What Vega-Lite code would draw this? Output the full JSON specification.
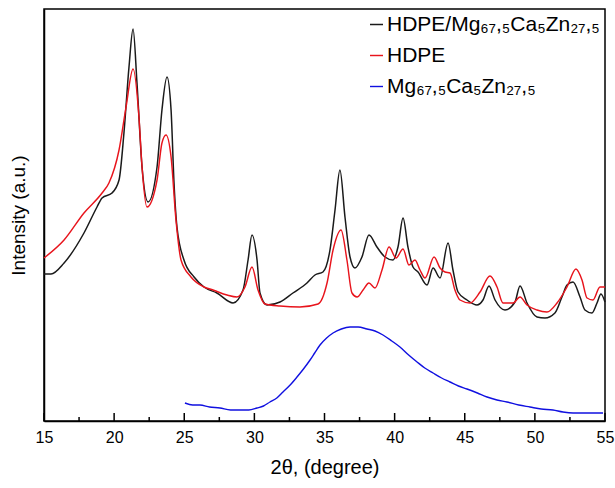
{
  "$schema": "https://vega.github.io/schema/vega-lite/v6.json",
  "width": 561,
  "height": 412,
  "autosize": "none",
  "padding": {"left": 44, "top": 9, "right": 10, "bottom": 67},
  "config": {
    "view": {"stroke": "black", "strokeWidth": 1.5},
    "font": "Liberation Sans",
    "axis": {"grid": false, "domainColor": "black", "domainWidth": 1.5, "labelColor": "black", "titleColor": "black", "tickColor": "black", "titleFontWeight": "normal"}
  },
  "datasets": {
    "major": [{"x": 15}, {"x": 20}, {"x": 25}, {"x": 30}, {"x": 35}, {"x": 40}, {"x": 45}, {"x": 50}, {"x": 55}],
    "minor": [{"x": 17.5}, {"x": 22.5}, {"x": 27.5}, {"x": 32.5}, {"x": 37.5}, {"x": 42.5}, {"x": 47.5}, {"x": 52.5}],
    "xrd": [
      {"s": "HDPE/Mg₆₇,₅Ca₅Zn₂₇,₅", "x": 15.00, "y": 147},
      {"s": "HDPE/Mg₆₇,₅Ca₅Zn₂₇,₅", "x": 15.50, "y": 147},
      {"s": "HDPE/Mg₆₇,₅Ca₅Zn₂₇,₅", "x": 16.43, "y": 158},
      {"s": "HDPE/Mg₆₇,₅Ca₅Zn₂₇,₅", "x": 17.85, "y": 188},
      {"s": "HDPE/Mg₆₇,₅Ca₅Zn₂₇,₅", "x": 18.78, "y": 214},
      {"s": "HDPE/Mg₆₇,₅Ca₅Zn₂₇,₅", "x": 19.14, "y": 223},
      {"s": "HDPE/Mg₆₇,₅Ca₅Zn₂₇,₅", "x": 19.85, "y": 228},
      {"s": "HDPE/Mg₆₇,₅Ca₅Zn₂₇,₅", "x": 20.35, "y": 241},
      {"s": "HDPE/Mg₆₇,₅Ca₅Zn₂₇,₅", "x": 20.70, "y": 288},
      {"s": "HDPE/Mg₆₇,₅Ca₅Zn₂₇,₅", "x": 21.06, "y": 354},
      {"s": "HDPE/Mg₆₇,₅Ca₅Zn₂₇,₅", "x": 21.35, "y": 392},
      {"s": "HDPE/Mg₆₇,₅Ca₅Zn₂₇,₅", "x": 21.63, "y": 338},
      {"s": "HDPE/Mg₆₇,₅Ca₅Zn₂₇,₅", "x": 21.99, "y": 254},
      {"s": "HDPE/Mg₆₇,₅Ca₅Zn₂₇,₅", "x": 22.42, "y": 219},
      {"s": "HDPE/Mg₆₇,₅Ca₅Zn₂₇,₅", "x": 23.06, "y": 254},
      {"s": "HDPE/Mg₆₇,₅Ca₅Zn₂₇,₅", "x": 23.41, "y": 311},
      {"s": "HDPE/Mg₆₇,₅Ca₅Zn₂₇,₅", "x": 23.77, "y": 344},
      {"s": "HDPE/Mg₆₇,₅Ca₅Zn₂₇,₅", "x": 24.06, "y": 311},
      {"s": "HDPE/Mg₆₇,₅Ca₅Zn₂₇,₅", "x": 24.27, "y": 238},
      {"s": "HDPE/Mg₆₇,₅Ca₅Zn₂₇,₅", "x": 24.48, "y": 194},
      {"s": "HDPE/Mg₆₇,₅Ca₅Zn₂₇,₅", "x": 24.98, "y": 161},
      {"s": "HDPE/Mg₆₇,₅Ca₅Zn₂₇,₅", "x": 25.70, "y": 144},
      {"s": "HDPE/Mg₆₇,₅Ca₅Zn₂₇,₅", "x": 26.41, "y": 134},
      {"s": "HDPE/Mg₆₇,₅Ca₅Zn₂₇,₅", "x": 27.33, "y": 128},
      {"s": "HDPE/Mg₆₇,₅Ca₅Zn₂₇,₅", "x": 28.48, "y": 118},
      {"s": "HDPE/Mg₆₇,₅Ca₅Zn₂₇,₅", "x": 29.19, "y": 131},
      {"s": "HDPE/Mg₆₇,₅Ca₅Zn₂₇,₅", "x": 29.55, "y": 161},
      {"s": "HDPE/Mg₆₇,₅Ca₅Zn₂₇,₅", "x": 29.83, "y": 186},
      {"s": "HDPE/Mg₆₇,₅Ca₅Zn₂₇,₅", "x": 30.19, "y": 161},
      {"s": "HDPE/Mg₆₇,₅Ca₅Zn₂₇,₅", "x": 30.40, "y": 128},
      {"s": "HDPE/Mg₆₇,₅Ca₅Zn₂₇,₅", "x": 30.90, "y": 116},
      {"s": "HDPE/Mg₆₇,₅Ca₅Zn₂₇,₅", "x": 31.83, "y": 119},
      {"s": "HDPE/Mg₆₇,₅Ca₅Zn₂₇,₅", "x": 32.75, "y": 128},
      {"s": "HDPE/Mg₆₇,₅Ca₅Zn₂₇,₅", "x": 33.75, "y": 138},
      {"s": "HDPE/Mg₆₇,₅Ca₅Zn₂₇,₅", "x": 34.32, "y": 146},
      {"s": "HDPE/Mg₆₇,₅Ca₅Zn₂₇,₅", "x": 34.89, "y": 149},
      {"s": "HDPE/Mg₆₇,₅Ca₅Zn₂₇,₅", "x": 35.39, "y": 171},
      {"s": "HDPE/Mg₆₇,₅Ca₅Zn₂₇,₅", "x": 35.75, "y": 211},
      {"s": "HDPE/Mg₆₇,₅Ca₅Zn₂₇,₅", "x": 36.10, "y": 251},
      {"s": "HDPE/Mg₆₇,₅Ca₅Zn₂₇,₅", "x": 36.46, "y": 204},
      {"s": "HDPE/Mg₆₇,₅Ca₅Zn₂₇,₅", "x": 36.82, "y": 164},
      {"s": "HDPE/Mg₆₇,₅Ca₅Zn₂₇,₅", "x": 37.17, "y": 153},
      {"s": "HDPE/Mg₆₇,₅Ca₅Zn₂₇,₅", "x": 37.67, "y": 164},
      {"s": "HDPE/Mg₆₇,₅Ca₅Zn₂₇,₅", "x": 38.17, "y": 186},
      {"s": "HDPE/Mg₆₇,₅Ca₅Zn₂₇,₅", "x": 38.74, "y": 174},
      {"s": "HDPE/Mg₆₇,₅Ca₅Zn₂₇,₅", "x": 39.31, "y": 164},
      {"s": "HDPE/Mg₆₇,₅Ca₅Zn₂₇,₅", "x": 39.88, "y": 161},
      {"s": "HDPE/Mg₆₇,₅Ca₅Zn₂₇,₅", "x": 40.24, "y": 174},
      {"s": "HDPE/Mg₆₇,₅Ca₅Zn₂₇,₅", "x": 40.60, "y": 203},
      {"s": "HDPE/Mg₆₇,₅Ca₅Zn₂₇,₅", "x": 40.95, "y": 174},
      {"s": "HDPE/Mg₆₇,₅Ca₅Zn₂₇,₅", "x": 41.31, "y": 154},
      {"s": "HDPE/Mg₆₇,₅Ca₅Zn₂₇,₅", "x": 41.67, "y": 149},
      {"s": "HDPE/Mg₆₇,₅Ca₅Zn₂₇,₅", "x": 42.31, "y": 136},
      {"s": "HDPE/Mg₆₇,₅Ca₅Zn₂₇,₅", "x": 42.74, "y": 153},
      {"s": "HDPE/Mg₆₇,₅Ca₅Zn₂₇,₅", "x": 43.24, "y": 143},
      {"s": "HDPE/Mg₆₇,₅Ca₅Zn₂₇,₅", "x": 43.81, "y": 178},
      {"s": "HDPE/Mg₆₇,₅Ca₅Zn₂₇,₅", "x": 44.16, "y": 151},
      {"s": "HDPE/Mg₆₇,₅Ca₅Zn₂₇,₅", "x": 44.52, "y": 129},
      {"s": "HDPE/Mg₆₇,₅Ca₅Zn₂₇,₅", "x": 45.16, "y": 121},
      {"s": "HDPE/Mg₆₇,₅Ca₅Zn₂₇,₅", "x": 45.87, "y": 116},
      {"s": "HDPE/Mg₆₇,₅Ca₅Zn₂₇,₅", "x": 46.30, "y": 121},
      {"s": "HDPE/Mg₆₇,₅Ca₅Zn₂₇,₅", "x": 46.73, "y": 135},
      {"s": "HDPE/Mg₆₇,₅Ca₅Zn₂₇,₅", "x": 47.16, "y": 121},
      {"s": "HDPE/Mg₆₇,₅Ca₅Zn₂₇,₅", "x": 47.87, "y": 111},
      {"s": "HDPE/Mg₆₇,₅Ca₅Zn₂₇,₅", "x": 48.58, "y": 119},
      {"s": "HDPE/Mg₆₇,₅Ca₅Zn₂₇,₅", "x": 48.94, "y": 135},
      {"s": "HDPE/Mg₆₇,₅Ca₅Zn₂₇,₅", "x": 49.44, "y": 118},
      {"s": "HDPE/Mg₆₇,₅Ca₅Zn₂₇,₅", "x": 50.15, "y": 104},
      {"s": "HDPE/Mg₆₇,₅Ca₅Zn₂₇,₅", "x": 50.72, "y": 103},
      {"s": "HDPE/Mg₆₇,₅Ca₅Zn₂₇,₅", "x": 51.43, "y": 108},
      {"s": "HDPE/Mg₆₇,₅Ca₅Zn₂₇,₅", "x": 51.93, "y": 124},
      {"s": "HDPE/Mg₆₇,₅Ca₅Zn₂₇,₅", "x": 52.29, "y": 136},
      {"s": "HDPE/Mg₆₇,₅Ca₅Zn₂₇,₅", "x": 52.72, "y": 139},
      {"s": "HDPE/Mg₆₇,₅Ca₅Zn₂₇,₅", "x": 53.22, "y": 124},
      {"s": "HDPE/Mg₆₇,₅Ca₅Zn₂₇,₅", "x": 53.57, "y": 111},
      {"s": "HDPE/Mg₆₇,₅Ca₅Zn₂₇,₅", "x": 54.07, "y": 108},
      {"s": "HDPE/Mg₆₇,₅Ca₅Zn₂₇,₅", "x": 54.43, "y": 118},
      {"s": "HDPE/Mg₆₇,₅Ca₅Zn₂₇,₅", "x": 54.71, "y": 127},
      {"s": "HDPE/Mg₆₇,₅Ca₅Zn₂₇,₅", "x": 55.00, "y": 119},
      {"s": "HDPE", "x": 15.00, "y": 163},
      {"s": "HDPE", "x": 16.43, "y": 181},
      {"s": "HDPE", "x": 17.85, "y": 208},
      {"s": "HDPE", "x": 19.14, "y": 228},
      {"s": "HDPE", "x": 19.63, "y": 238},
      {"s": "HDPE", "x": 20.35, "y": 271},
      {"s": "HDPE", "x": 20.85, "y": 314},
      {"s": "HDPE", "x": 21.35, "y": 352},
      {"s": "HDPE", "x": 21.77, "y": 304},
      {"s": "HDPE", "x": 21.99, "y": 254},
      {"s": "HDPE", "x": 22.34, "y": 214},
      {"s": "HDPE", "x": 23.06, "y": 241},
      {"s": "HDPE", "x": 23.41, "y": 278},
      {"s": "HDPE", "x": 23.70, "y": 286},
      {"s": "HDPE", "x": 24.06, "y": 264},
      {"s": "HDPE", "x": 24.41, "y": 201},
      {"s": "HDPE", "x": 24.77, "y": 161},
      {"s": "HDPE", "x": 25.48, "y": 144},
      {"s": "HDPE", "x": 26.41, "y": 134},
      {"s": "HDPE", "x": 27.05, "y": 131},
      {"s": "HDPE", "x": 28.05, "y": 126},
      {"s": "HDPE", "x": 28.76, "y": 124},
      {"s": "HDPE", "x": 29.33, "y": 134},
      {"s": "HDPE", "x": 29.83, "y": 154},
      {"s": "HDPE", "x": 30.26, "y": 131},
      {"s": "HDPE", "x": 30.76, "y": 117},
      {"s": "HDPE", "x": 31.83, "y": 115},
      {"s": "HDPE", "x": 33.25, "y": 114},
      {"s": "HDPE", "x": 34.54, "y": 117},
      {"s": "HDPE", "x": 35.18, "y": 138},
      {"s": "HDPE", "x": 35.61, "y": 171},
      {"s": "HDPE", "x": 36.18, "y": 191},
      {"s": "HDPE", "x": 36.60, "y": 161},
      {"s": "HDPE", "x": 36.96, "y": 128},
      {"s": "HDPE", "x": 37.32, "y": 124},
      {"s": "HDPE", "x": 37.75, "y": 131},
      {"s": "HDPE", "x": 38.17, "y": 138},
      {"s": "HDPE", "x": 38.60, "y": 133},
      {"s": "HDPE", "x": 39.10, "y": 151},
      {"s": "HDPE", "x": 39.60, "y": 174},
      {"s": "HDPE", "x": 40.10, "y": 163},
      {"s": "HDPE", "x": 40.60, "y": 172},
      {"s": "HDPE", "x": 41.02, "y": 156},
      {"s": "HDPE", "x": 41.45, "y": 161},
      {"s": "HDPE", "x": 41.81, "y": 151},
      {"s": "HDPE", "x": 42.17, "y": 143},
      {"s": "HDPE", "x": 42.81, "y": 164},
      {"s": "HDPE", "x": 43.24, "y": 153},
      {"s": "HDPE", "x": 43.59, "y": 149},
      {"s": "HDPE", "x": 43.95, "y": 148},
      {"s": "HDPE", "x": 44.30, "y": 131},
      {"s": "HDPE", "x": 44.66, "y": 121},
      {"s": "HDPE", "x": 45.37, "y": 118},
      {"s": "HDPE", "x": 46.09, "y": 129},
      {"s": "HDPE", "x": 46.80, "y": 145},
      {"s": "HDPE", "x": 47.30, "y": 134},
      {"s": "HDPE", "x": 47.73, "y": 118},
      {"s": "HDPE", "x": 48.44, "y": 118},
      {"s": "HDPE", "x": 48.94, "y": 124},
      {"s": "HDPE", "x": 49.44, "y": 116},
      {"s": "HDPE", "x": 50.15, "y": 111},
      {"s": "HDPE", "x": 50.86, "y": 109},
      {"s": "HDPE", "x": 51.58, "y": 118},
      {"s": "HDPE", "x": 52.29, "y": 134},
      {"s": "HDPE", "x": 52.93, "y": 152},
      {"s": "HDPE", "x": 53.36, "y": 141},
      {"s": "HDPE", "x": 53.72, "y": 123},
      {"s": "HDPE", "x": 54.14, "y": 121},
      {"s": "HDPE", "x": 54.64, "y": 134},
      {"s": "HDPE", "x": 55.00, "y": 134},
      {"s": "Mg₆₇,₅Ca₅Zn₂₇,₅", "x": 25.05, "y": 18},
      {"s": "Mg₆₇,₅Ca₅Zn₂₇,₅", "x": 25.60, "y": 16},
      {"s": "Mg₆₇,₅Ca₅Zn₂₇,₅", "x": 26.12, "y": 16},
      {"s": "Mg₆₇,₅Ca₅Zn₂₇,₅", "x": 26.80, "y": 14},
      {"s": "Mg₆₇,₅Ca₅Zn₂₇,₅", "x": 27.55, "y": 13},
      {"s": "Mg₆₇,₅Ca₅Zn₂₇,₅", "x": 28.30, "y": 11},
      {"s": "Mg₆₇,₅Ca₅Zn₂₇,₅", "x": 28.98, "y": 11},
      {"s": "Mg₆₇,₅Ca₅Zn₂₇,₅", "x": 29.60, "y": 11},
      {"s": "Mg₆₇,₅Ca₅Zn₂₇,₅", "x": 30.19, "y": 13},
      {"s": "Mg₆₇,₅Ca₅Zn₂₇,₅", "x": 30.65, "y": 15},
      {"s": "Mg₆₇,₅Ca₅Zn₂₇,₅", "x": 31.11, "y": 19},
      {"s": "Mg₆₇,₅Ca₅Zn₂₇,₅", "x": 31.60, "y": 23},
      {"s": "Mg₆₇,₅Ca₅Zn₂₇,₅", "x": 32.04, "y": 29},
      {"s": "Mg₆₇,₅Ca₅Zn₂₇,₅", "x": 32.55, "y": 36},
      {"s": "Mg₆₇,₅Ca₅Zn₂₇,₅", "x": 33.04, "y": 44},
      {"s": "Mg₆₇,₅Ca₅Zn₂₇,₅", "x": 33.50, "y": 52},
      {"s": "Mg₆₇,₅Ca₅Zn₂₇,₅", "x": 33.97, "y": 61},
      {"s": "Mg₆₇,₅Ca₅Zn₂₇,₅", "x": 34.30, "y": 68},
      {"s": "Mg₆₇,₅Ca₅Zn₂₇,₅", "x": 34.68, "y": 76},
      {"s": "Mg₆₇,₅Ca₅Zn₂₇,₅", "x": 35.15, "y": 83},
      {"s": "Mg₆₇,₅Ca₅Zn₂₇,₅", "x": 35.61, "y": 88},
      {"s": "Mg₆₇,₅Ca₅Zn₂₇,₅", "x": 36.20, "y": 92},
      {"s": "Mg₆₇,₅Ca₅Zn₂₇,₅", "x": 36.82, "y": 94},
      {"s": "Mg₆₇,₅Ca₅Zn₂₇,₅", "x": 37.40, "y": 94},
      {"s": "Mg₆₇,₅Ca₅Zn₂₇,₅", "x": 38.03, "y": 92},
      {"s": "Mg₆₇,₅Ca₅Zn₂₇,₅", "x": 38.60, "y": 90},
      {"s": "Mg₆₇,₅Ca₅Zn₂₇,₅", "x": 39.17, "y": 86},
      {"s": "Mg₆₇,₅Ca₅Zn₂₇,₅", "x": 39.80, "y": 80},
      {"s": "Mg₆₇,₅Ca₅Zn₂₇,₅", "x": 40.38, "y": 74},
      {"s": "Mg₆₇,₅Ca₅Zn₂₇,₅", "x": 41.00, "y": 66},
      {"s": "Mg₆₇,₅Ca₅Zn₂₇,₅", "x": 41.60, "y": 59},
      {"s": "Mg₆₇,₅Ca₅Zn₂₇,₅", "x": 42.15, "y": 53},
      {"s": "Mg₆₇,₅Ca₅Zn₂₇,₅", "x": 42.74, "y": 48},
      {"s": "Mg₆₇,₅Ca₅Zn₂₇,₅", "x": 43.35, "y": 43},
      {"s": "Mg₆₇,₅Ca₅Zn₂₇,₅", "x": 43.95, "y": 39},
      {"s": "Mg₆₇,₅Ca₅Zn₂₇,₅", "x": 44.55, "y": 35},
      {"s": "Mg₆₇,₅Ca₅Zn₂₇,₅", "x": 45.16, "y": 32},
      {"s": "Mg₆₇,₅Ca₅Zn₂₇,₅", "x": 45.90, "y": 28},
      {"s": "Mg₆₇,₅Ca₅Zn₂₇,₅", "x": 46.59, "y": 24},
      {"s": "Mg₆₇,₅Ca₅Zn₂₇,₅", "x": 47.30, "y": 21},
      {"s": "Mg₆₇,₅Ca₅Zn₂₇,₅", "x": 48.01, "y": 19},
      {"s": "Mg₆₇,₅Ca₅Zn₂₇,₅", "x": 48.85, "y": 16},
      {"s": "Mg₆₇,₅Ca₅Zn₂₇,₅", "x": 49.65, "y": 14},
      {"s": "Mg₆₇,₅Ca₅Zn₂₇,₅", "x": 50.45, "y": 12},
      {"s": "Mg₆₇,₅Ca₅Zn₂₇,₅", "x": 51.29, "y": 11},
      {"s": "Mg₆₇,₅Ca₅Zn₂₇,₅", "x": 52.00, "y": 9},
      {"s": "Mg₆₇,₅Ca₅Zn₂₇,₅", "x": 52.72, "y": 8},
      {"s": "Mg₆₇,₅Ca₅Zn₂₇,₅", "x": 53.80, "y": 8},
      {"s": "Mg₆₇,₅Ca₅Zn₂₇,₅", "x": 54.86, "y": 8}
    ]
  },
  "layer": [
    {
      "data": {"name": "xrd"},
      "mark": {"type": "line", "interpolate": "monotone"},
      "encoding": {
        "x": {
          "field": "x",
          "type": "quantitative",
          "scale": {"domain": [15, 55], "nice": false, "zero": false},
          "axis": {
            "values": [15, 20, 25, 30, 35, 40, 45, 50, 55],
            "labelOverlap": false,
            "labelFlush": false,
            "ticks": false,
            "labelPadding": 8,
            "labelFontSize": 16,
            "title": "2θ, (degree)",
            "titleFontSize": 20,
            "titlePadding": 12
          }
        },
        "y": {
          "field": "y",
          "type": "quantitative",
          "scale": {"domain": [0, 412], "nice": false},
          "axis": {"ticks": false, "labels": false, "title": "Intensity (a.u.)", "titleFontSize": 19, "titlePadding": 16}
        },
        "color": {
          "field": "s",
          "type": "nominal",
          "scale": {"domain": ["HDPE/Mg₆₇,₅Ca₅Zn₂₇,₅", "HDPE", "Mg₆₇,₅Ca₅Zn₂₇,₅"], "range": ["#1a1a1a", "#e8141c", "#1010e0"]},
          "legend": {
            "title": null,
            "orient": "none",
            "legendX": 322,
            "legendY": 5,
            "symbolType": "stroke",
            "symbolSize": 169,
            "symbolStrokeWidth": 1.5,
            "labelFontSize": 21,
            "labelFont": "Liberation Sans",
            "labelColor": "black",
            "labelLimit": 400,
            "labelOffset": 0,
            "rowPadding": 9
          }
        },
        "strokeWidth": {
          "field": "s",
          "type": "nominal",
          "scale": {"domain": ["HDPE/Mg₆₇,₅Ca₅Zn₂₇,₅", "HDPE", "Mg₆₇,₅Ca₅Zn₂₇,₅"], "range": [1.5, 1.4, 2.2]},
          "legend": null
        }
      }
    },
    {
      "data": {"name": "major"},
      "mark": {"type": "rule", "color": "black", "strokeWidth": 1.5},
      "encoding": {
        "x": {"field": "x", "type": "quantitative"},
        "y": {"datum": 0},
        "y2": {"datum": 8}
      }
    },
    {
      "data": {"name": "minor"},
      "mark": {"type": "rule", "color": "black", "strokeWidth": 1.5},
      "encoding": {
        "x": {"field": "x", "type": "quantitative"},
        "y": {"datum": 0},
        "y2": {"datum": 4}
      }
    }
  ]
}
